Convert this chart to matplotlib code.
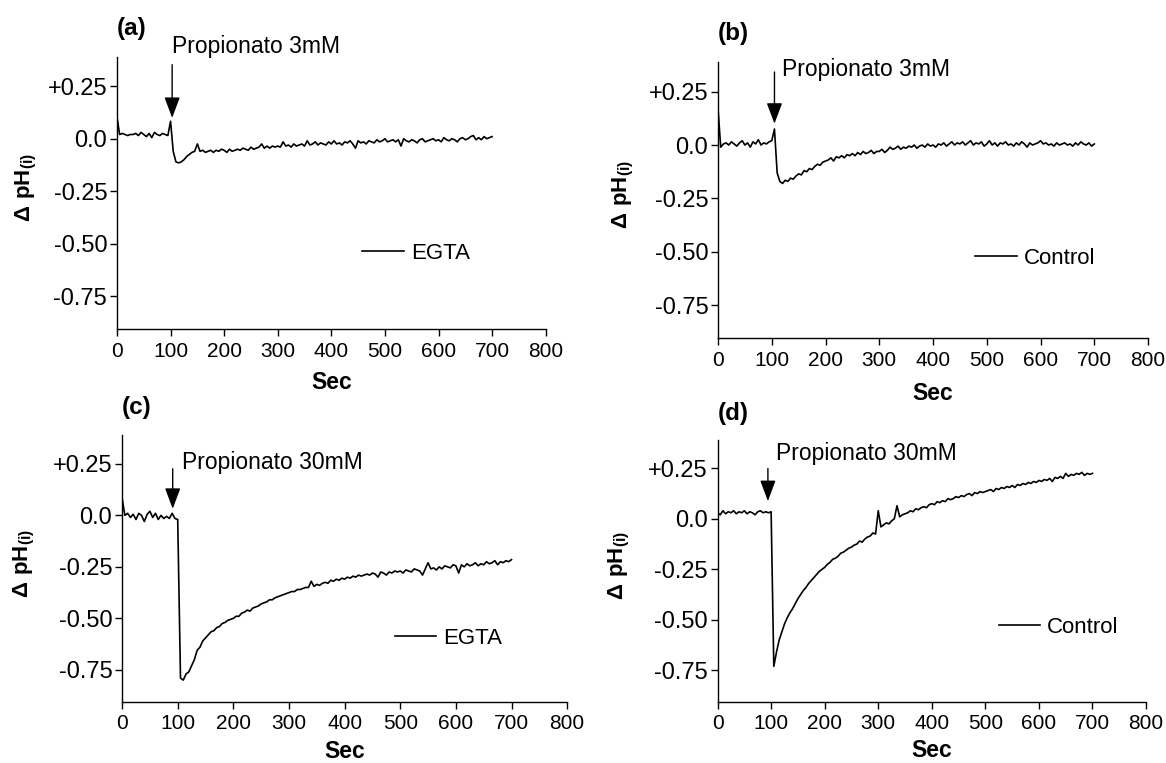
import numpy as np
import matplotlib
matplotlib.use('Agg')
import matplotlib.pyplot as plt
from matplotlib.patches import ArrowStyle

plt.rcParams['font.family'] = ['Liberation Sans', 'DejaVu Sans']
plt.rcParams['mathtext.fontset'] = 'custom'
plt.rcParams['mathtext.rm'] = 'Liberation Sans'
plt.rcParams['mathtext.bf'] = 'Liberation Sans:bold'
plt.rcParams['axes.unicode_minus'] = False

# one reading every 5 s
seconds = np.arange(0, 705, 5)

# (a) propionato 3mM, EGTA
ph_a = [0.105, 0.02, 0.025, 0.02, 0.015, 0.02, 0.02, 0.025, 0.015, 0.03,
        0.02, 0.01, 0.025, 0.005, 0.03, 0.02, 0.015, 0.025, 0.02, 0.015,
        0.083, -0.06, -0.11, -0.115, -0.11, -0.1, -0.085, -0.075, -0.065, -0.06,
        -0.025, -0.06, -0.055, -0.065, -0.06, -0.055, -0.065, -0.055, -0.06, -0.05,
        -0.055, -0.065, -0.05, -0.06, -0.055, -0.05, -0.055, -0.045, -0.05, -0.055,
        -0.04, -0.05, -0.045, -0.04, -0.025, -0.045, -0.035, -0.045, -0.035, -0.04,
        -0.035, -0.04, -0.015, -0.035, -0.03, -0.04, -0.025, -0.035, -0.03, -0.025,
        -0.035, -0.01, -0.03, -0.025, -0.015, -0.03, -0.02, -0.025, -0.03, -0.015,
        -0.025, -0.01, -0.025, -0.02, -0.03, -0.015, -0.02, -0.01, -0.025, -0.045,
        -0.01, -0.02, -0.015, -0.025, -0.01, -0.015, -0.02, -0.005, -0.015, -0.01,
        0.0, -0.015, -0.01, -0.005, -0.015, -0.005, -0.035, 0.0, -0.01, -0.015,
        -0.005, -0.01, -0.02, -0.005, 0.0, -0.015, -0.01, -0.005, 0.0, -0.01,
        -0.005, -0.015, 0.005, -0.005, -0.01, 0.0, -0.005, -0.015, 0.0, 0.005,
        -0.005, 0.0, 0.01, 0.015, -0.005, 0.005, -0.005, 0.01, 0.0, 0.005,
        0.01]

# (b) propionato 3mM, control
ph_b = [0.17, -0.01, 0.005, 0.01, 0.0, 0.015, 0.005, -0.005, 0.01, 0.02,
        0.0, 0.01, -0.01, 0.015, 0.005, 0.025, 0.0, 0.01, 0.005, 0.015,
        0.02, 0.075, -0.13, -0.17, -0.18, -0.165, -0.17, -0.155, -0.16, -0.145,
        -0.135, -0.14, -0.12, -0.125, -0.11, -0.115, -0.1, -0.09, -0.095, -0.08,
        -0.075, -0.07, -0.06, -0.075, -0.055, -0.06, -0.05, -0.06, -0.045, -0.05,
        -0.04, -0.05, -0.035, -0.045, -0.03, -0.04, -0.035, -0.025, -0.04, -0.03,
        -0.03, -0.02, -0.035, -0.025, -0.01, -0.02, -0.015, -0.005, -0.02, -0.01,
        -0.015, -0.005, -0.01, 0.0, -0.015, -0.005, 0.0, -0.01, 0.005, -0.005,
        0.0, -0.01, 0.005, 0.0, 0.01, -0.005, 0.005, 0.015, 0.0, 0.01,
        0.005, 0.015, 0.0, 0.01, 0.02, 0.0, 0.01, 0.005, 0.015, -0.005,
        0.005, 0.02, 0.0, 0.01, -0.005, 0.01, 0.005, 0.015, 0.0, 0.005,
        -0.005, 0.01, 0.0, 0.015, 0.005, -0.01, 0.01, 0.0, 0.005, 0.01,
        0.02, 0.005, 0.01, 0.0, 0.005, -0.005, 0.01, 0.0, 0.005, 0.01,
        0.0, 0.005, -0.005, 0.01, 0.0, 0.015, 0.005, 0.0, 0.01, -0.005,
        0.005]

# (c) propionato 30mM, EGTA
ph_c = [0.085, 0.0, 0.01, -0.01, 0.005, -0.02, 0.01, 0.0, -0.03, 0.005,
        0.02, -0.01, 0.01, -0.02, 0.0, -0.015, -0.005, -0.015, 0.01, -0.015,
        -0.02, -0.79, -0.80, -0.77, -0.76, -0.73, -0.70, -0.655, -0.64, -0.61,
        -0.595, -0.58, -0.565, -0.56, -0.545, -0.54, -0.525, -0.52, -0.51, -0.505,
        -0.5, -0.49, -0.49, -0.475, -0.47, -0.46, -0.465, -0.45, -0.445, -0.44,
        -0.43, -0.425, -0.42, -0.41, -0.41, -0.4, -0.395, -0.39, -0.385, -0.38,
        -0.375, -0.37, -0.37, -0.36, -0.36, -0.355, -0.35, -0.35, -0.32, -0.345,
        -0.335, -0.34, -0.33, -0.325, -0.33, -0.315, -0.32, -0.31, -0.315, -0.305,
        -0.31, -0.3, -0.305, -0.295, -0.3, -0.29, -0.295, -0.29, -0.285, -0.29,
        -0.28, -0.285, -0.3, -0.275, -0.28, -0.29, -0.275, -0.28, -0.27, -0.275,
        -0.27, -0.28, -0.265, -0.27, -0.275, -0.26, -0.265, -0.27, -0.29, -0.26,
        -0.23, -0.26, -0.255, -0.265, -0.25, -0.26, -0.245, -0.25, -0.255, -0.24,
        -0.245, -0.28, -0.24, -0.25, -0.235, -0.245, -0.24, -0.23, -0.245, -0.235,
        -0.24, -0.225, -0.235, -0.23, -0.22, -0.24, -0.225, -0.23, -0.22, -0.225,
        -0.215]

# (d) propionato 30mM, control
ph_d = [0.03, 0.02, 0.04, 0.025, 0.035, 0.03, 0.04, 0.025, 0.035, 0.03,
        0.04, 0.025, 0.035, 0.03, 0.02, 0.035, 0.04, 0.03, 0.035, 0.03,
        0.035, -0.73, -0.66, -0.60, -0.56, -0.52, -0.49, -0.465, -0.445, -0.42,
        -0.395, -0.375, -0.355, -0.34, -0.32, -0.305, -0.29, -0.275, -0.26, -0.25,
        -0.24, -0.225, -0.215, -0.2, -0.195, -0.185, -0.17, -0.165, -0.155, -0.145,
        -0.14, -0.13, -0.125, -0.11, -0.115, -0.1, -0.09, -0.085, -0.07, -0.075,
        0.04, -0.04, -0.03, -0.02, -0.025, -0.01, 0.0, 0.065, 0.01, 0.02,
        0.025, 0.03, 0.04, 0.035, 0.05, 0.045, 0.055, 0.06, 0.055, 0.07,
        0.075, 0.07, 0.085, 0.08, 0.09, 0.085, 0.1, 0.095, 0.1, 0.11,
        0.105, 0.115, 0.11, 0.12, 0.125, 0.115, 0.13, 0.125, 0.135, 0.13,
        0.135, 0.14, 0.145, 0.135, 0.15, 0.145, 0.155, 0.15, 0.16, 0.155,
        0.165, 0.155, 0.17, 0.165, 0.175, 0.17, 0.18, 0.175, 0.185, 0.18,
        0.19, 0.185, 0.195, 0.19, 0.2, 0.185, 0.205, 0.2, 0.21, 0.2,
        0.225, 0.21, 0.22, 0.215, 0.225, 0.22, 0.23, 0.215, 0.225, 0.22,
        0.225]

x_ticks = [0, 100, 200, 300, 400, 500, 600, 700, 800]
y_ticks = [0.25, 0.0, -0.25, -0.50, -0.75]
y_ticklabels = ['+0.25', '0.0', '-0.25', '-0.50', '-0.75']

# letter, data, legend, stimulus, axes rect, arrow (x, top, tip), text (x, y),
# legend anchor, ylabel x, xlabel y
panels = [
    ('(a)', ph_a, 'EGTA', 'Propionato 3mM', [0.1003, 0.5688, 0.3677, 0.3569],
     (103, 0.352, 0.099), (103, 0.44), (0.5727, 0.278), -0.21, -0.198),
    ('(b)', ph_b, 'Control', 'Propionato 3mM', [0.6158, 0.5566, 0.3688, 0.3625],
     (105, 0.342, 0.10), (119, 0.355), (0.5986, 0.289), -0.221, -0.198),
    ('(c)', ph_c, 'EGTA', 'Propionato 30mM', [0.1047, 0.0803, 0.3817, 0.3495],
     (91, 0.226, 0.032), (108, 0.258), (0.6135, 0.238), -0.22, -0.185),
    ('(d)', ph_d, 'Control', 'Propionato 30mM', [0.6154, 0.0803, 0.3675, 0.3430],
     (94, 0.249, 0.088), (110, 0.325), (0.656, 0.284), -0.23, -0.188),
]

fig = plt.figure(figsize=(11.66, 7.63), dpi=100)

for letter, values, name, stim, rect, arrow, txt, leg_xy, ylab_x, xlab_y in panels:
    ax = fig.add_axes(rect)
    ax.plot(seconds, values, color='black', lw=1.2, label=name)

    ax.set_xlim(0, 800)
    ax.set_ylim(-0.905, 0.39)
    ax.set_xticks(x_ticks)
    ax.set_yticks(y_ticks)
    ax.set_yticklabels(y_ticklabels)
    for side in ['top', 'right']:
        ax.spines[side].set_visible(False)
    for side in ['left', 'bottom']:
        ax.spines[side].set_linewidth(1.0)
    ax.tick_params(direction='out', length=5, width=1.0)
    ax.tick_params(axis='x', pad=4, labelsize=15)
    ax.tick_params(axis='y', pad=2, labelsize=17)

    ax.set_xlabel('Sec', fontsize=16.5, fontweight='bold')
    ax.xaxis.label.set_va('center')
    ax.xaxis.set_label_coords(0.5, xlab_y)
    ax.set_ylabel(r'$\mathbf{\Delta\ pH_{(i)}}$', fontsize=16)
    ax.yaxis.label.set_va('center')
    ax.yaxis.set_label_coords(ylab_x, 0.52)

    ax.text(0.0, 1.103, letter, transform=ax.transAxes, fontsize=17.5,
            fontweight='bold', ha='left', va='center')

    # stimulus arrow
    ax.annotate('', xy=(arrow[0], arrow[2]), xytext=(arrow[0], arrow[1]),
                arrowprops=dict(arrowstyle=ArrowStyle('-|>', head_length=0.8, head_width=0.3),
                                mutation_scale=16, color='black', lw=1.0,
                                shrinkA=0, shrinkB=0),
                annotation_clip=False)
    ax.text(txt[0], txt[1], stim, fontsize=16.5, ha='left', va='center', clip_on=False)

    ax.legend(loc='center left', bbox_to_anchor=leg_xy, frameon=False,
              fontsize=16, handlelength=1.85, handletextpad=0.32,
              borderpad=0, borderaxespad=0)

fig.savefig('out.png', dpi=100)
